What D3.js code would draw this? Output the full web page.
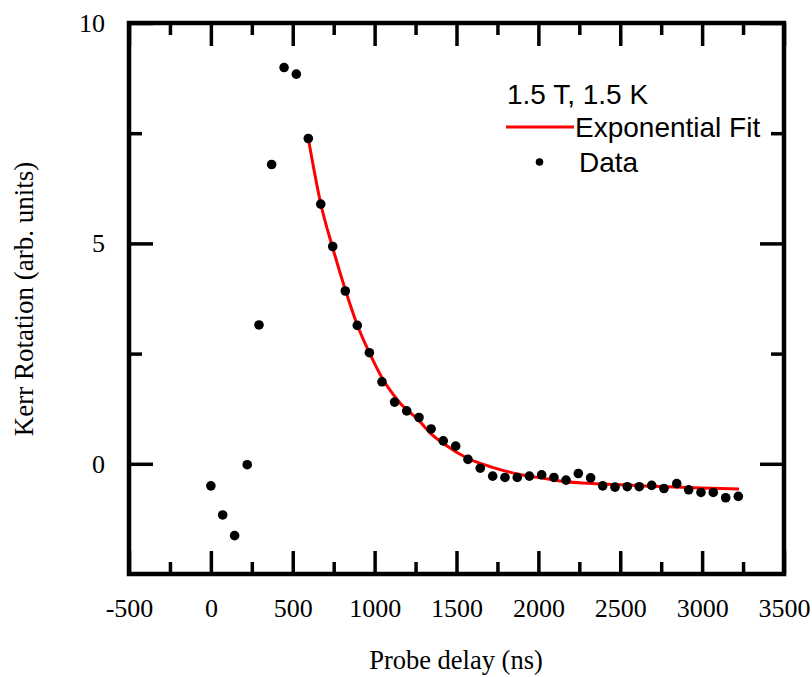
<!DOCTYPE html>
<html lang="en">
<head>
<meta charset="utf-8">
<title>Kerr rotation vs probe delay</title>
<script src="https://d3js.org/d3.v7.min.js"></script>
<style>
body { margin: 0; background: #fff; }
</style>
</head>
<body>
<script type="text/javascript">
var w = 812;
var h = 677;

// data
var delay = [0, 72, 145, 222, 294, 371, 447, 522, 595, 671, 744, 821, 894, 968, 1045, 1122,
             1196, 1271, 1345, 1419, 1495, 1570, 1645, 1721, 1796, 1871, 1945, 2020, 2095,
             2169, 2244, 2319, 2393, 2468, 2543, 2616, 2692, 2767, 2845, 2918, 2993, 3068,
             3144, 3221];
var kerr = [-0.50, -1.16, -1.63, -0.02, 3.15, 6.79, 8.99, 8.84, 7.38, 5.89, 4.93, 3.92, 3.14,
            2.52, 1.86, 1.40, 1.20, 1.05, 0.79, 0.52, 0.40, 0.10, -0.10, -0.28, -0.31, -0.31,
            -0.28, -0.25, -0.31, -0.37, -0.22, -0.32, -0.50, -0.53, -0.52, -0.52, -0.49,
            -0.56, -0.45, -0.59, -0.65, -0.65, -0.77, -0.74];

// exponential fit curve
var fitDelay = [595, 671, 744, 821, 894, 968, 1045, 1155, 1271, 1345, 1420, 1570, 1720, 1871,
                2049, 2132, 2400, 2700, 3000, 3225];
var fitKerr = [7.38, 5.90, 4.90, 3.95, 3.15, 2.52, 1.95, 1.38, 0.98, 0.68, 0.46, 0.12, -0.08,
               -0.23, -0.34, -0.39, -0.46, -0.51, -0.55, -0.57];

var xMajor = [-500, 0, 500, 1000, 1500, 2000, 2500, 3000, 3500];
var xMinor = [-250, 250, 750, 1250, 1750, 2250, 2750, 3250];
var yMajor = [0, 5, 10];
var yMinor = [2.5, 7.5];

var legendTitle = "1.5 T, 1.5 K";
var legendLabels = ["Exponential Fit", "Data"];

var padL = 129, padR = 784, padT = 23, padB = 574;

var dataset = delay.map(function(d, i) { return { x: d, y: kerr[i] }; });
var fitset = fitDelay.map(function(d, i) { return { x: d, y: fitKerr[i] }; });

var xScale = d3.scaleLinear().domain([-500, 3500]).range([padL, padR]);
var yScale = d3.scaleLinear().domain([-2.5, 10]).range([padB, padT]);

var plain = function(d) { return String(d); };

var svg = d3.select("body")
            .append("svg")
            .attr("width", w)
            .attr("height", h);

function styleAxis(g) {
  g.select(".domain").remove();
  g.selectAll(".tick line").attr("stroke", "#000").attr("stroke-width", 3.5);
  g.selectAll(".tick text")
   .attr("fill", "#000")
   .attr("font-family", "'Liberation Serif', 'Times New Roman', serif")
   .attr("font-size", "26px");
}

// bottom axis with labels
svg.append("g")
   .attr("transform", "translate(0," + padB + ")")
   .call(d3.axisBottom(xScale).tickValues(xMajor).tickSize(-23).tickPadding(25).tickFormat(plain))
   .call(styleAxis);
svg.append("g")
   .attr("transform", "translate(0," + padB + ")")
   .call(d3.axisBottom(xScale).tickValues(xMinor).tickSize(-12).tickFormat(""))
   .call(styleAxis);

// top axis
svg.append("g")
   .attr("transform", "translate(0," + padT + ")")
   .call(d3.axisTop(xScale).tickValues(xMajor).tickSize(-23).tickFormat(""))
   .call(styleAxis);
svg.append("g")
   .attr("transform", "translate(0," + padT + ")")
   .call(d3.axisTop(xScale).tickValues(xMinor).tickSize(-12).tickFormat(""))
   .call(styleAxis);

// left axis with labels
svg.append("g")
   .attr("transform", "translate(" + padL + ",0)")
   .call(d3.axisLeft(yScale).tickValues(yMajor).tickSize(-24).tickPadding(24).tickFormat(plain))
   .call(styleAxis);
svg.append("g")
   .attr("transform", "translate(" + padL + ",0)")
   .call(d3.axisLeft(yScale).tickValues(yMinor).tickSize(-13).tickFormat(""))
   .call(styleAxis);

// right axis
svg.append("g")
   .attr("transform", "translate(" + padR + ",0)")
   .call(d3.axisRight(yScale).tickValues(yMajor).tickSize(-24).tickFormat(""))
   .call(styleAxis);
svg.append("g")
   .attr("transform", "translate(" + padR + ",0)")
   .call(d3.axisRight(yScale).tickValues(yMinor).tickSize(-13).tickFormat(""))
   .call(styleAxis);

// frame
svg.append("rect")
   .attr("x", padL)
   .attr("y", padT)
   .attr("width", padR - padL)
   .attr("height", padB - padT)
   .attr("fill", "none")
   .attr("stroke", "#000")
   .attr("stroke-width", 4.5);

// fit line
var line = d3.line()
             .x(function(d) { return xScale(d.x); })
             .y(function(d) { return yScale(d.y); })
             .curve(d3.curveMonotoneX);

svg.append("path")
   .datum(fitset)
   .attr("d", line)
   .attr("fill", "none")
   .attr("stroke", "#ff0000")
   .attr("stroke-width", 3);

// data points
svg.selectAll("circle.dot")
   .data(dataset)
   .enter()
   .append("circle")
   .attr("class", "dot")
   .attr("cx", function(d) { return xScale(d.x); })
   .attr("cy", function(d) { return yScale(d.y); })
   .attr("r", 4.8)
   .attr("fill", "#000");

// legend
var legend = svg.append("g")
                .attr("font-family", "'Liberation Sans', Arial, sans-serif")
                .attr("font-size", "28px")
                .attr("fill", "#000");
legend.append("text").attr("x", 507).attr("y", 104).text(legendTitle);
legend.append("line")
      .attr("x1", 506).attr("x2", 574)
      .attr("y1", 127).attr("y2", 127)
      .attr("stroke", "#ff0000")
      .attr("stroke-width", 3);
legend.append("text").attr("x", 575).attr("y", 137).text(legendLabels[0]);
legend.append("circle").attr("cx", 539.5).attr("cy", 162).attr("r", 3.8).attr("fill", "#000");
legend.append("text").attr("x", 579).attr("y", 172).text(legendLabels[1]);

// axis titles
svg.append("text")
   .attr("x", 456)
   .attr("y", 669)
   .attr("text-anchor", "middle")
   .attr("font-family", "'Liberation Serif', 'Times New Roman', serif")
   .attr("font-size", "26.5px")
   .text("Probe delay (ns)");

svg.append("text")
   .attr("transform", "translate(33,299) rotate(-90)")
   .attr("text-anchor", "middle")
   .attr("font-family", "'Liberation Serif', 'Times New Roman', serif")
   .attr("font-size", "27px")
   .text("Kerr Rotation (arb. units)");
</script>
</body>
</html>
